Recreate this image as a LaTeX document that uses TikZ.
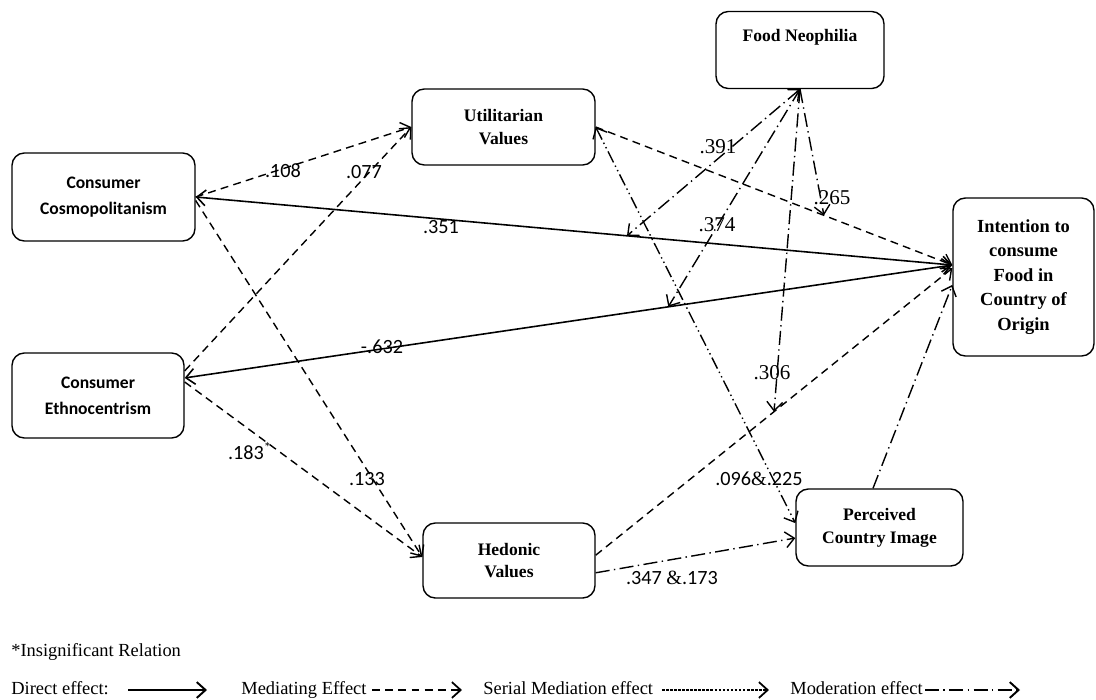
\documentclass[tikz,border=0pt]{standalone}
\usepackage{fontspec}
\setmainfont{Liberation Serif}
\newfontfamily\carlito{Carlito}
\usetikzlibrary{arrows.meta,positioning}

\begin{document}
\begin{tikzpicture}
[x=0.02cm, y=-0.02cm, color=black,
 box/.style={draw, rounded corners=7pt, line width=0.8pt, align=center, inner sep=0pt,
   font=\bfseries\fontsize{10}{13}\selectfont},
 calbox/.style={box, font=\carlito\bfseries\fontsize{10}{15}\selectfont},
 num/.style={font=\carlito\fontsize{11.5}{12}\selectfont, inner sep=0pt},
 tnum/.style={font=\fontsize{12}{12}\selectfont, inner sep=0pt},
 leg/.style={anchor=base west, inner sep=0pt, font=\fontsize{10.5}{12}\selectfont},
 tip/.style={-{Straight Barb[length=5pt,width=9pt]}},
 both/.style={{Straight Barb[length=5pt,width=9pt]}-{Straight Barb[length=5pt,width=9pt]}},
 direct/.style={tip, line width=0.9pt},
 mediate/.style={tip, line width=0.8pt, dash pattern=on 4.5pt off 3pt},
 serial/.style={tip, line width=0.8pt, dash pattern=on 7pt off 2pt on 0.8pt off 2pt on 0.8pt off 2pt},
 moderate/.style={tip, line width=0.8pt, dash pattern=on 8pt off 2.5pt on 0.8pt off 2.5pt}]

\useasboundingbox (0,0) rectangle (1096,700);

  % constructs
  \node [calbox, minimum width=3.66cm, minimum height=1.76cm] (cc) at (103.5,197) {Consumer\\Cosmopolitanism};
  \node [calbox, minimum width=3.44cm, minimum height=1.70cm] (ce) at (98,395.5) {Consumer\\Ethnocentrism};
  \node [box, minimum width=3.66cm, minimum height=1.52cm] (uv) at (503.5,127) {Utilitarian\\Values};
  \node [box, minimum width=3.44cm, minimum height=1.50cm] (hv) at (509,560.5) {Hedonic\\Values};
  \node [box, minimum width=3.36cm, minimum height=1.54cm] (fn) at (800,50) {};
  \node [anchor=base, font=\bfseries\fontsize{10}{13}\selectfont] (fntext) at (800,41) {Food Neophilia};
  \node [box, minimum width=3.34cm, minimum height=1.54cm] (pci) at (879.5,527.5) {Perceived\\Country Image};
  \node [box, minimum width=2.82cm, minimum height=3.16cm, font=\bfseries\fontsize{10.5}{14}\selectfont] (ic) at (1023.5,277)
    {Intention to\\consume\\Food in\\Country of\\Origin};

  % direct effects
  \draw [direct, both] (cc.east) -- coordinate[pos=0.57] (m1) ([yshift=6.8pt]ic.west);
  \draw [direct, both] ([yshift=10pt]ce.east) -- coordinate[pos=0.63] (m2) ([yshift=6.8pt]ic.west);

  % mediating effects
  \draw [mediate] (cc.east) -- (uv.west);
  \draw [mediate] ([yshift=14pt]ce.east) -- (uv.west);
  \draw [mediate] ([yshift=-2pt]cc.east) -- ([yshift=2pt]hv.west);
  \draw [mediate] ([yshift=7.7pt]ce.east) -- ([yshift=2pt]hv.west);
  \draw [mediate] (uv.east) -- coordinate[pos=0.64] (m4) ([yshift=6.8pt]ic.west);
  \draw [mediate] ([yshift=3pt]hv.east) -- coordinate[pos=0.5] (m3) ([yshift=5pt]ic.west);

  % serial mediation and moderation
  \draw [serial, both] (uv.east) -- ([yshift=2.5pt]pci.west);
  \draw [moderate] ([yshift=-7pt]hv.east) -- ([yshift=-6pt]pci.west);
  \draw [moderate] ([xshift=-3.7pt]pci.north) -- ([yshift=-4.5pt]ic.west);
  \draw [moderate, both] (fn.south) -- (m1);
  \foreach \to in {m2,m3,m4}
  \draw [moderate] (fn.south) -- (\to);

  % coefficients
  \node [num] (c108) at (283,171) {.108};
  \node [num] (c077) at (364,172) {.077};
  \node [num] (c351) at (441,227) {.351};
  \node [num] (c632) at (382,347) {-.632};
  \node [num] (c183) at (250,451) {.183\textsuperscript{*}};
  \node [num] (c133) at (367,479) {.133};
  \node [tnum] (c391) at (718,147) {.391};
  \node [tnum] (c374) at (717,225) {.374};
  \node [tnum] (c265) at (832,198) {.265};
  \node [tnum] (c306) at (772,373) {.306};
  \node [num] (c096) at (759,479) {.096{\rmfamily\&}.225};
  \node [num] (c347) at (672,578) {.347 {\rmfamily\&}.173};

  % legend
  \node [leg] (insig) at (11,656) {*Insignificant Relation};
  \node [leg] (ldirect) at (11,694) {Direct effect:};
  \node [leg] (lmediate) at (241,694) {Mediating Effect};
  \node [leg] (lserial) at (483,694) {Serial Mediation effect};
  \node [leg] (lmoderate) at (790,694) {Moderation effect};
  \foreach \name/\from/\to in {direct/128/207, mediate/372/462, serial/662/769, moderate/925/1020}{
    \coordinate (s\name) at (\from,690);
    \coordinate (e\name) at (\to,690);
  }
  \draw [direct, line width=1.1pt] (sdirect) -- (edirect);
  \draw [mediate, line width=1pt] (smediate) -- (emediate);
  \draw [tip, line width=1pt, dash pattern=on 1.5pt off 0.8pt] (sserial) -- (eserial);
  \draw [moderate, line width=1.1pt] (smoderate) -- (emoderate);
\end{tikzpicture}
\end{document}
